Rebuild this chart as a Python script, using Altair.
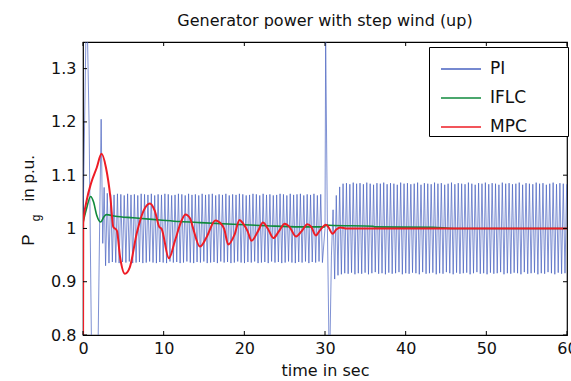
import altair as alt
import numpy as np
import pandas as pd

# ---------------- data ----------------
# PI: start transient (time, value)
pi_start_t = [0.0, 0.2, 0.45, 0.75, 1.05, 1.45, 1.85, 2.1, 2.25, 2.45, 2.62]
pi_start_v = [1.0, 1.2, 1.45, 1.2, 0.78, 0.6, 0.76, 1.05, 1.205, 0.972, 1.077]
# PI: sustained oscillation 1 (alternating troughs / peaks, half period 0.21 s)
pi_osc1_t0 = 2.8
pi_half = 0.21
pi_osc1_lo = [0.930, 0.935, 0.937, 0.936, 0.935, 0.937, 0.936, 0.938, 0.935, 0.936,
              0.937, 0.935, 0.936, 0.938, 0.936, 0.935, 0.937, 0.936, 0.935, 0.938,
              0.936, 0.937, 0.935, 0.936, 0.938, 0.936, 0.935, 0.937, 0.936, 0.938,
              0.935, 0.936, 0.937, 0.935, 0.938, 0.936, 0.937, 0.935, 0.936, 0.938,
              0.936, 0.935, 0.937, 0.936, 0.938, 0.935, 0.936, 0.937, 0.935, 0.938,
              0.936, 0.937, 0.935, 0.936, 0.938, 0.936, 0.935, 0.937, 0.936, 0.938,
              0.935, 0.937, 0.936, 0.938, 0.936]
pi_osc1_hi = [1.066, 1.064, 1.063, 1.065, 1.064, 1.062, 1.065, 1.063, 1.064, 1.062,
              1.065, 1.064, 1.063, 1.065, 1.062, 1.064, 1.063, 1.065, 1.064, 1.062,
              1.063, 1.065, 1.064, 1.062, 1.065, 1.063, 1.064, 1.062, 1.065, 1.063,
              1.064, 1.065, 1.062, 1.064, 1.063, 1.065, 1.062, 1.064, 1.063, 1.065,
              1.064, 1.062, 1.063, 1.065, 1.064, 1.062, 1.065, 1.063, 1.064, 1.062,
              1.063, 1.065, 1.064, 1.062, 1.065, 1.063, 1.064, 1.065, 1.062, 1.064,
              1.063, 1.065, 1.062, 1.064]
# PI: disturbance at 30 s (time, value)
pi_mid_t = [30.0, 30.08, 30.3, 30.55, 30.8, 31.0, 31.2]
pi_mid_v = [1.0, 1.36, 1.0, 0.72, 0.95, 1.035, 0.905]
# PI: sustained oscillation 2 (alternating peaks / troughs)
pi_osc2_t0 = 31.4
pi_osc2_hi = [1.062, 1.078, 1.084, 1.085, 1.083, 1.086, 1.084, 1.085, 1.083, 1.086,
              1.084, 1.082, 1.085, 1.084, 1.086, 1.083, 1.085, 1.084, 1.082, 1.086,
              1.084, 1.085, 1.083, 1.084, 1.086, 1.082, 1.085, 1.084, 1.083, 1.086,
              1.084, 1.085, 1.082, 1.084, 1.086, 1.083, 1.085, 1.084, 1.083, 1.086,
              1.084, 1.082, 1.085, 1.084, 1.086, 1.083, 1.085, 1.084, 1.082, 1.086,
              1.084, 1.085, 1.083, 1.084, 1.086, 1.082, 1.085, 1.084, 1.083, 1.086,
              1.084, 1.085, 1.082, 1.084, 1.086, 1.083, 1.085, 1.084, 1.083]
pi_osc2_lo = [0.912, 0.914, 0.916, 0.915, 0.917, 0.914, 0.916, 0.915, 0.917, 0.914,
              0.916, 0.918, 0.915, 0.916, 0.914, 0.917, 0.915, 0.916, 0.918, 0.914,
              0.916, 0.915, 0.917, 0.916, 0.914, 0.918, 0.915, 0.916, 0.917, 0.914,
              0.916, 0.915, 0.918, 0.916, 0.914, 0.917, 0.915, 0.916, 0.917, 0.914,
              0.916, 0.918, 0.915, 0.916, 0.914, 0.917, 0.915, 0.916, 0.918, 0.914,
              0.916, 0.915, 0.917, 0.916, 0.914, 0.918, 0.915, 0.916, 0.917, 0.914,
              0.916, 0.915, 0.918, 0.916, 0.914, 0.917, 0.915, 0.916]

# IFLC (time, value)
iflc_t = [0.0, 0.4, 0.95, 1.3, 1.7, 2.2, 2.6, 2.9, 4.0, 6.2, 9.5, 12.0, 14.5, 18.6,
          22.8, 26.9, 29.9, 30.1, 30.5, 36.0, 36.1, 43.4, 46.0, 60.0]
iflc_v = [1.011, 1.035, 1.060, 1.050, 1.025, 1.012, 1.022, 1.026, 1.023, 1.020, 1.016,
          1.013, 1.011, 1.008, 1.005, 1.003, 1.003, 1.007, 1.006, 1.004, 1.003, 1.002,
          1.0, 1.0]

# MPC (time, value)
mpc_t = [0.0, 0.03, 0.45, 1.0, 1.7, 2.3, 2.85, 3.4, 3.75, 4.2, 4.6, 5.2, 5.8, 6.65,
         7.5, 8.3, 8.9, 9.45, 9.75, 10.65, 11.4, 12.2, 12.7, 13.3, 13.6, 14.5, 15.3,
         16.4, 17.2, 17.5, 18.0, 18.8, 19.4, 19.9, 20.4, 20.9, 21.7, 22.3, 22.9, 23.6,
         24.3, 25.0, 25.6, 26.4, 27.2, 27.8, 28.3, 28.85, 29.4, 30.1, 30.4, 30.95,
         31.4, 31.9, 32.7, 60.0]
mpc_v = [0.70, 1.01, 1.052, 1.085, 1.114, 1.140, 1.114, 1.058, 1.003, 0.996, 0.946,
         0.915, 0.927, 0.990, 1.033, 1.047, 1.033, 1.003, 0.999, 0.944, 0.977, 1.014,
         1.026, 1.018, 1.003, 0.966, 0.983, 1.015, 1.007, 0.999, 0.970, 0.989, 1.016,
         1.008, 0.995, 0.977, 0.995, 1.011, 1.000, 0.982, 0.995, 1.009, 1.003, 0.985,
         0.997, 1.008, 1.003, 0.987, 0.997, 1.007, 1.003, 0.990, 0.998, 1.002, 1.000,
         1.000]

series_names = ["PI", "IFLC", "MPC"]
series_colors = ["#4862c0", "#0f8a3c", "#ee1c25"]
x_ticks = [0, 10, 20, 30, 40, 50, 60]
y_ticks = [0.8, 0.9, 1.0, 1.1, 1.2, 1.3]


def interleave(a, b):
    out = []
    for i in range(max(len(a), len(b))):
        if i < len(a):
            out.append(a[i])
        if i < len(b):
            out.append(b[i])
    return out


osc1_v = interleave(pi_osc1_lo, pi_osc1_hi)
osc1_t = list(pi_osc1_t0 + pi_half * np.arange(len(osc1_v)))
osc2_v = interleave(pi_osc2_hi, pi_osc2_lo)
osc2_t = list(pi_osc2_t0 + pi_half * np.arange(len(osc2_v)))

pi_t = pi_start_t + osc1_t + pi_mid_t + osc2_t
pi_v = pi_start_v + osc1_v + pi_mid_v + osc2_v

df = pd.concat([
    pd.DataFrame({"t": pi_t, "v": pi_v, "series": "PI", "o": range(len(pi_t))}),
    pd.DataFrame({"t": iflc_t, "v": iflc_v, "series": "IFLC", "o": range(len(iflc_t))}),
    pd.DataFrame({"t": mpc_t, "v": mpc_v, "series": "MPC", "o": range(len(mpc_t))}),
])

W, H = 484, 293
FONT = "DejaVu Sans"
FONT2 = "Liberation Sans"
NB = "\u00a0"
TXT = "#111111"

xs = alt.Scale(domain=[0, 60], nice=False, zero=False)
ys = alt.Scale(domain=[0.8, 1.35], nice=False, zero=False)
cs = alt.Scale(domain=series_names, range=series_colors)

base = alt.Chart(df)

color_enc = alt.Color(
    "series:N", scale=cs,
    legend=alt.Legend(
        title="MMM", titleColor="white", titleFontSize=12, titleOrient="right",
        titlePadding=4, titleFont=FONT,
        orient="none", legendX=346, legendY=5,
        symbolType="stroke", symbolSize=1600, symbolStrokeWidth=1.5,
        labelFontSize=17, labelFont=FONT, labelColor=TXT,
        strokeColor="black", fillColor="white", padding=1,
        rowPadding=0, labelOffset=8, symbolOffset=10,
    ),
)

x_axis = alt.Axis(values=x_ticks, ticks=False, domain=False, grid=False,
                  labelFontSize=16, labelFont=FONT, labelColor=TXT,
                  labelPadding=5, title="time in sec", titleFontSize=16,
                  titleFont=FONT, titleFontWeight="normal", titleColor=TXT,
                  titlePadding=6, labelFlush=False)
y_axis = alt.Axis(values=y_ticks, ticks=False, domain=False, grid=False,
                  format=".2~f", labelFontSize=16, labelFont=FONT,
                  labelColor=TXT, labelPadding=7,
                  title="P" + NB * 7 + "in p.u.",
                  titleFontSize=17, titleFont=FONT2, titleFontWeight="normal",
                  titleColor=TXT, titleX=-55, titleY=158,
                  titleAlign="center", titleBaseline="middle", titleAngle=270)

x_enc = alt.X("t:Q", scale=xs, axis=x_axis)
y_enc = alt.Y("v:Q", scale=ys, axis=y_axis)

pi_layer = base.transform_filter(alt.datum.series == "PI").mark_line(
    strokeWidth=0.7, clip=True).encode(x=x_enc, y=y_enc, color=color_enc, order="o:Q")
iflc_layer = base.transform_filter(alt.datum.series == "IFLC").mark_line(
    strokeWidth=1.6, clip=True, interpolate="monotone").encode(
    x=x_enc, y=y_enc, color=color_enc, order="o:Q")
mpc_layer = base.transform_filter(alt.datum.series == "MPC").mark_line(
    strokeWidth=2, clip=True, interpolate="monotone").encode(
    x=x_enc, y=y_enc, color=color_enc, order="o:Q")

xt = pd.DataFrame({"t": x_ticks})
yt = pd.DataFrame({"v": y_ticks})
tick_x_bottom = alt.Chart(xt).mark_rule(color="black", strokeWidth=1).encode(
    x=x_enc, y=alt.value(H - 4), y2=alt.value(H))
tick_x_top = alt.Chart(xt).mark_rule(color="black", strokeWidth=1).encode(
    x=x_enc, y=alt.value(0), y2=alt.value(4))
tick_y_left = alt.Chart(yt).mark_rule(color="black", strokeWidth=1).encode(
    y=y_enc, x=alt.value(0), x2=alt.value(4))
tick_y_right = alt.Chart(yt).mark_rule(color="black", strokeWidth=1).encode(
    y=y_enc, x=alt.value(W - 4), x2=alt.value(W))

sub_g = alt.Chart(pd.DataFrame({"s": ["g"]})).mark_text(
    font=FONT2, fontSize=12, angle=270, color=TXT).encode(
    text="s:N", x=alt.value(-47), y=alt.value(176))

chart = alt.layer(
    pi_layer, iflc_layer, mpc_layer,
    tick_x_bottom, tick_x_top, tick_y_left, tick_y_right, sub_g,
).properties(
    width=W, height=H,
    title=alt.TitleParams("Generator power with step wind (up)", fontSize=16,
                          font=FONT, fontWeight="normal", color=TXT,
                          anchor="middle", offset=13),
    autosize=alt.AutoSizeParams(type="none"),
    padding={"left": 83, "top": 42, "right": 4, "bottom": 46},
    background="white",
).configure_view(stroke="black", strokeWidth=1.2)

chart.save("out.html", embed_options={"renderer": "svg", "actions": False})
